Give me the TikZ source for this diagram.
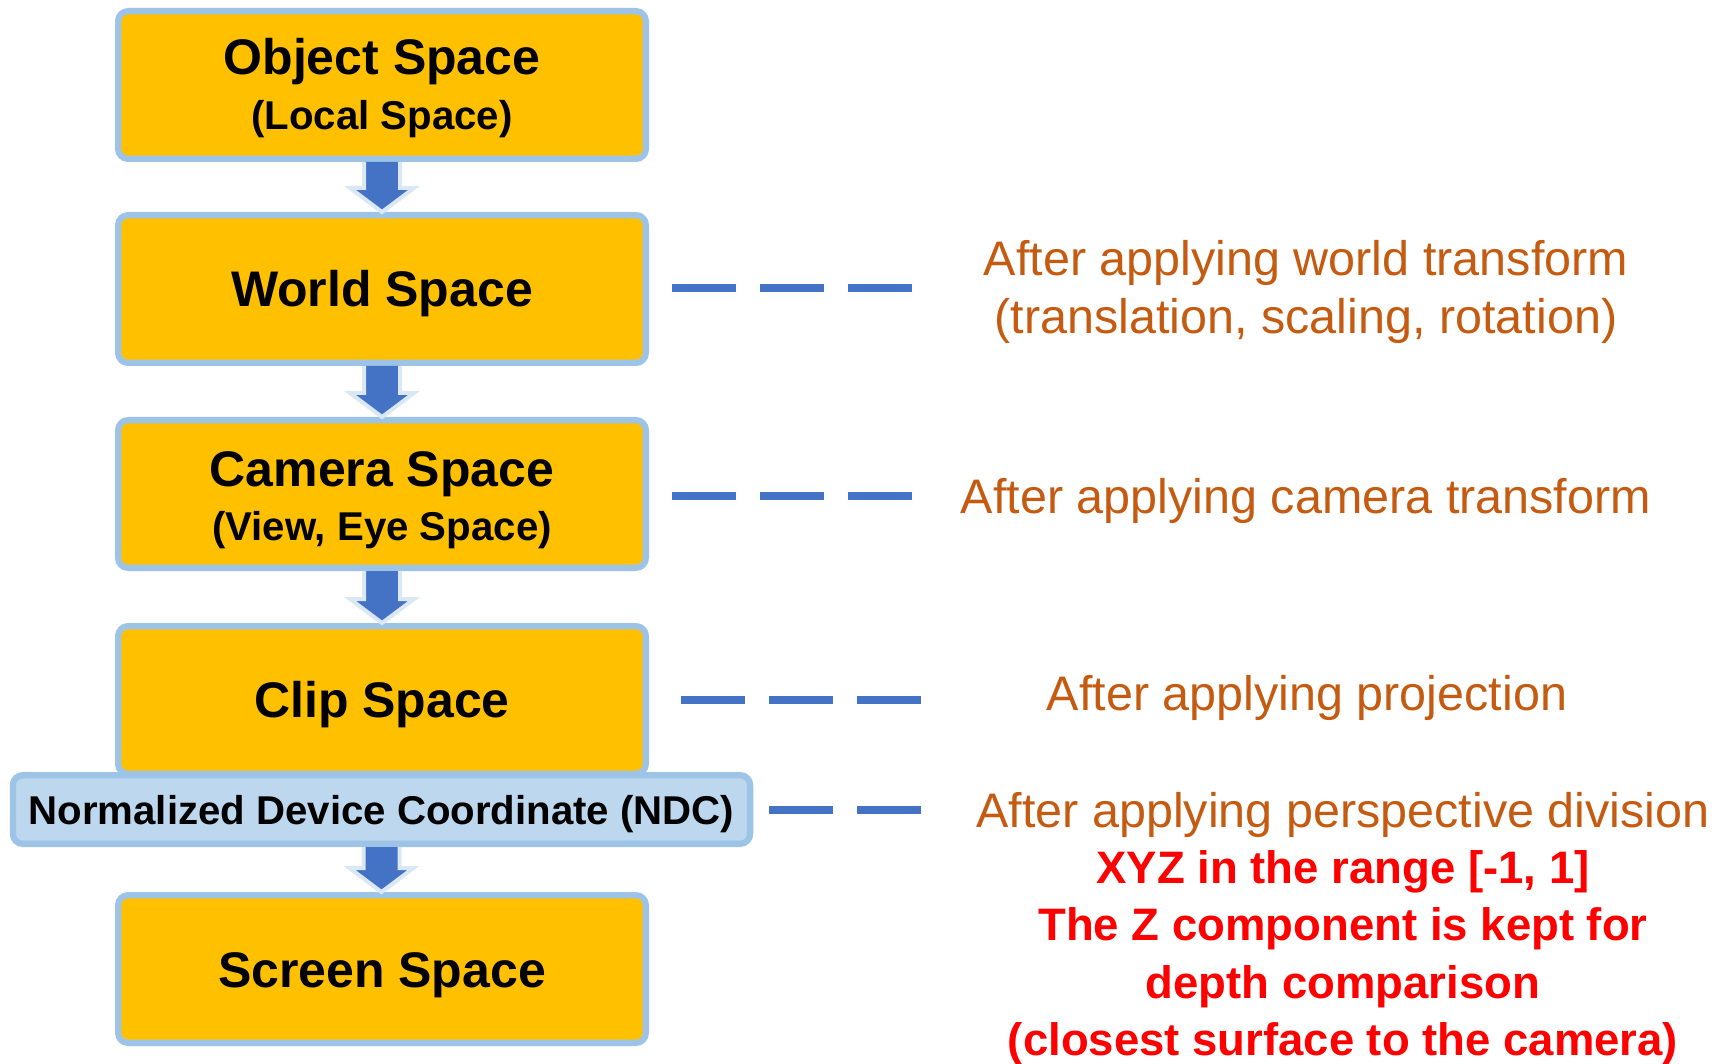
\documentclass[tikz,border=0pt]{standalone}
\usepackage{fontspec}
\setmainfont{Liberation Sans}
\usetikzlibrary{calc}
\definecolor{boxfill}{HTML}{FFC000}
\definecolor{boxedge}{HTML}{9DC3E6}
\definecolor{ndcfill}{HTML}{BDD7EE}
\definecolor{arrowblue}{HTML}{4472C4}
\definecolor{arrowedge}{HTML}{DAE8F5}
\definecolor{notecol}{HTML}{C55A11}
\definecolor{warncol}{HTML}{FF0000}
\newcommand{\flowarr}[2]{%
  \path[fill=arrowblue] let \p1=(#1.south), \p2=(#2.north) in
    (\x1-18pt,\y1) -- (\x1+18pt,\y1) -- (\x1+18pt,\y2+24pt) -- (\x1+32pt,\y2+24pt)
    -- (\x1,\y2) -- (\x1-32pt,\y2+24pt) -- (\x1-18pt,\y2+24pt) -- cycle;
  \draw[arrowedge, line width=4pt] let \p1=(#1.south), \p2=(#2.north) in
    (\x1+18pt,\y1) -- (\x1+18pt,\y2+24pt) -- (\x1+32pt,\y2+24pt)
    -- (\x1,\y2) -- (\x1-32pt,\y2+24pt) -- (\x1-18pt,\y2+24pt) -- (\x1-18pt,\y1);
}
\begin{document}
\begin{tikzpicture}[x=1pt,y=-1pt,
  spacebox/.style={draw=boxedge, fill=boxfill, line width=6.3pt, rounded corners=10pt,
    minimum width=527.7pt, minimum height=147.7pt, inner sep=0pt},
  ndcbox/.style={draw=boxedge, fill=ndcfill, line width=6.3pt, rounded corners=10pt,
    minimum width=737.2pt, minimum height=68.7pt, inner sep=0pt},
  titletext/.style={anchor=base, inner sep=0pt, font=\fontsize{50}{60}\selectfont\bfseries},
  subtext/.style={anchor=base, inner sep=0pt, font=\fontsize{40.2}{50}\selectfont\bfseries},
  notetext/.style={anchor=base, inner sep=0pt, text=notecol, font=\fontsize{48.5}{58}\selectfont},
  warntext/.style={anchor=base, inner sep=0pt, text=warncol, font=\fontsize{45.5}{56}\selectfont\bfseries},
  dashline/.style={draw=arrowblue, line width=7.5pt, dash pattern=on 64pt off 24pt}
]
\useasboundingbox (0,0) rectangle (1725,1064);

% boxes
\node[spacebox] (obj) at (382,85) {};
\node[spacebox] (wld) at (382,289) {};
\node[spacebox] (cam) at (382,494) {};
\node[spacebox] (clp) at (382,700) {};
\node[ndcbox] (ndc) at (381.5,809.5) {};
\node[spacebox] (scr) at (382,969) {};

% box texts
\node[titletext] (tobj) at (382,75) {Object Space};
\node[subtext] (sobj) at (382,130) {(Local Space)};
\node[titletext] (twld) at (382,307) {World Space};
\node[titletext] (tcam) at (382,486) {Camera Space};
\node[subtext] (scam) at (382,540) {(View, Eye Space)};
\node[titletext] (tclp) at (382,717.5) {Clip Space};
\node[subtext] (tndc) at (381.5,824) {Normalized Device Coordinate (NDC)};
\node[titletext] (tscr) at (382,987) {Screen Space};

% arrows
\flowarr{obj}{wld}
\flowarr{wld}{cam}
\flowarr{cam}{clp}
\flowarr{ndc}{scr}

% dashed connectors
\coordinate (dw1) at (672,288);  \coordinate (dw2) at (912,288);
\coordinate (dc1) at (672,496);  \coordinate (dc2) at (912,496);
\coordinate (dp1) at (681,700);  \coordinate (dp2) at (921,700);
\coordinate (dn1) at (769,810);  \coordinate (dn2) at (921,810);
\draw[dashline] (dw1) -- (dw2);
\draw[dashline] (dc1) -- (dc2);
\draw[dashline] (dp1) -- (dp2);
\draw[dashline] (dn1) -- (dn2);

% notes
\node[notetext] (nw1) at (1306,276) {After applying world transform};
\node[notetext] (nw2) at (1306,334) {(translation, scaling, rotation)};
\node[notetext] (nc) at (1306,514) {After applying camera transform};
\node[notetext] (np) at (1307,710) {After applying projection};
\node[notetext] (nn) at (1343,827) {After applying perspective division};
\node[warntext] (r1) at (1343,883) {XYZ in the range [-1, 1]};
\node[warntext] (r2) at (1343,940.5) {The Z component is kept for};
\node[warntext] (r3) at (1343,998) {depth comparison};
\node[warntext] (r4) at (1343,1055.5) {(closest surface to the camera)};
\end{tikzpicture}
\end{document}
